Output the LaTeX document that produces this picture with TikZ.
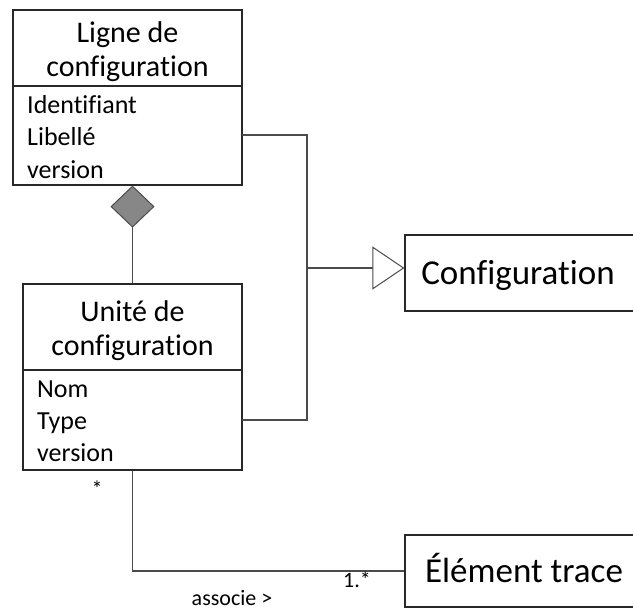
\documentclass[tikz,border=0pt]{standalone}
\usepackage{fontspec}
\setmainfont[Ligatures=NoCommon]{Carlito}
\usetikzlibrary{arrows.meta}
\definecolor{linegray}{RGB}{75,75,75}
\definecolor{boxline}{RGB}{40,40,40}
\definecolor{diamondgray}{RGB}{135,135,135}
\tikzset{
    classbox/.style={draw=boxline, line width=1.2pt, inner sep=0pt},
    titletext/.style={font=\fontsize{30}{34}\selectfont, align=center, inner sep=0pt},
    attrtext/.style={font=\fontsize{26}{30}\selectfont, inner sep=0pt, anchor=base west},
    bigtext/.style={font=\fontsize{35}{40}\selectfont, inner sep=0pt, anchor=base},
    smalltext/.style={font=\fontsize{22}{26}\selectfont, inner sep=0pt},
    link/.style={draw=linegray, line width=1.2pt},
}
\begin{document}
\begin{tikzpicture}[x=1pt, y=-1pt]
        \path[use as bounding box, clip] (0,0) rectangle (633,610);
        % classes
        \node[classbox, minimum width=229pt, minimum height=175pt] (ligne) at (127.5,97.5) {};
        \draw[classbox] (ligne.west |- 0,86) -- (ligne.east |- 0,86);
        \node[titletext] (ligneTitle) at (127.5,52) {Ligne de\\configuration};
        \foreach \attr [count=\i] in {Identifiant, Libellé, version} {
            \node[attrtext] (ligneAttr\i) at (27,81+32.5*\i) {\attr};
        }
        \node[classbox, minimum width=219pt, minimum height=186pt] (unite) at (132.5,377) {};
        \draw[classbox] (unite.west |- 0,370) -- (unite.east |- 0,370);
        \node[titletext] (uniteTitle) at (132.5,331) {Unité de\\configuration};
        \foreach \attr [count=\i] in {Nom, Type, version} {
            \node[attrtext] (uniteAttr\i) at (37,365+32*\i) {\attr};
        }
        \node[classbox, minimum width=255pt, minimum height=76pt] (config) at (532.5,273) {};
        \node[bigtext] (configText) at (518,284) {Configuration};
        \node[classbox, minimum width=255pt, minimum height=72pt] (element) at (532.5,571) {};
        \node[bigtext] (elementText) at (524,582) {Élément trace};
        % links
        \draw[link, -{Diamond[length=42pt, width=44pt, fill=diamondgray, line width=1pt]}]
            (unite.north) -- (unite.north |- ligne.south);
        \coordinate (ligneLink) at (242,135);
        \coordinate (uniteLink) at (242,420);
        \coordinate (join) at (307,268);
        \draw[link] (ligneLink) -| (join) |- (uniteLink);
        \draw[link, -{Triangle[open, fill=white, length=32pt, width=43pt, line width=1pt]}]
            (join) -- (join -| config.west);
        \draw[link] (unite.south) |- (element.west);
        \node[smalltext] (manyUnite) at (97,489) {*};
        \node[smalltext] (manyElement) at (357,580) {1.*};
        \node[smalltext] (assocLabel) at (232,598) {associe >};
\end{tikzpicture}
\end{document}
